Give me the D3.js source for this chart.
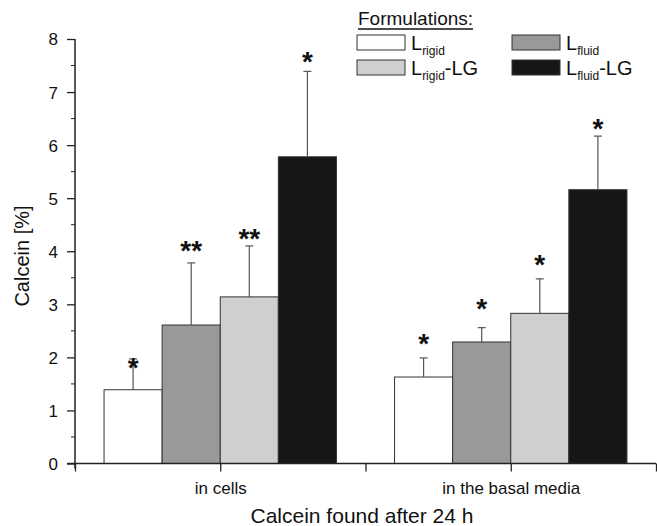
<!DOCTYPE html>
<html>
<head>
<meta charset="utf-8">
<script src="https://cdn.jsdelivr.net/npm/d3@7"></script>
<style>
  body { margin: 0; background: #fff; }
  text { font-family: Arial, "Liberation Sans", sans-serif; fill: #111; }
</style>
</head>
<body>
<div id="chart"></div>
<script>
var groups = ['in cells', 'in the basal media']
var formulations = ['Lrigid', 'Lfluid', 'Lrigid-LG', 'Lfluid-LG']
var colors = ['#ffffff', '#999999', '#cfcfcf', '#161616']

// mean values per group, in formulation order
var cellsMean = [1.39, 2.61, 3.14, 5.78]
var basalMean = [1.63, 2.29, 2.83, 5.16]
// top of the error bar
var cellsErr = [1.97, 3.78, 4.10, 7.39]
var basalErr = [1.99, 2.56, 3.48, 6.17]
// significance marks and where they sit
var cellsStars = ['*', '**', '**', '*']
var basalStars = ['*', '*', '*', '*']
var cellsStarY = [1.93, 4.14, 4.37, 7.69]
var basalStarY = [2.39, 3.05, 3.88, 6.43]

var yTicks = [0, 1, 2, 3, 4, 5, 6, 7, 8]
var yMinor = [0.5, 1.5, 2.5, 3.5, 4.5, 5.5, 6.5, 7.5]
var xTicks = [0, 1, 2, 3, 4]

var data = []
groups.forEach(function(g, gi){
  var m = gi == 0 ? cellsMean : basalMean
  var e = gi == 0 ? cellsErr : basalErr
  var s = gi == 0 ? cellsStars : basalStars
  var sy = gi == 0 ? cellsStarY : basalStarY
  formulations.forEach(function(f, i){
    data.push({group: gi, idx: i, value: m[i], err: e[i], star: s[i], starY: sy[i]})
  })
})

var W = 657, H = 526
var svg = d3.select('#chart').append('svg').attr('width', W).attr('height', H)

var x = d3.scaleLinear().domain([0, 4]).range([75, 656])
var y = d3.scaleLinear().domain([0, 8]).range([463.5, 39])
var barW = 0.4
var groupPos = [1, 3]

function barX(d){ return groupPos[d.group] - 2 * barW + d.idx * barW }

// bars
svg.selectAll('rect.bar').data(data).enter().append('rect')
  .attr('class', 'bar')
  .attr('x', function(d){ return x(barX(d)) })
  .attr('width', function(d){ return x(barX(d) + barW) - x(barX(d)) })
  .attr('y', function(d){ return y(d.value) })
  .attr('height', function(d){ return y(0) - y(d.value) })
  .attr('fill', function(d){ return colors[d.idx] })
  .attr('stroke', '#333')
  .attr('stroke-width', 1)

// error bars
var eb = svg.selectAll('g.err').data(data).enter().append('g').attr('class', 'err')
eb.append('line')
  .attr('x1', function(d){ return x(barX(d) + barW / 2) })
  .attr('x2', function(d){ return x(barX(d) + barW / 2) })
  .attr('y1', function(d){ return y(d.value) })
  .attr('y2', function(d){ return y(d.err) })
  .attr('stroke', '#555').attr('stroke-width', 1.2)
eb.append('line')
  .attr('x1', function(d){ return x(barX(d) + barW / 2) - 4 })
  .attr('x2', function(d){ return x(barX(d) + barW / 2) + 4 })
  .attr('y1', function(d){ return y(d.err) })
  .attr('y2', function(d){ return y(d.err) })
  .attr('stroke', '#555').attr('stroke-width', 1.2)

// stars
svg.selectAll('text.star').data(data).enter().append('text')
  .attr('class', 'star')
  .attr('x', function(d){ return x(barX(d) + barW / 2) })
  .attr('y', function(d){ return y(d.starY) + 16 })
  .attr('text-anchor', 'middle')
  .style('font-size', '28px').style('font-weight', 'bold')
  .text(function(d){ return d.star })

// y axis
var yAxis = d3.axisLeft(y).tickValues(yTicks).tickSize(8).tickPadding(9).tickFormat(d3.format('d'))
var gy = svg.append('g').attr('transform', 'translate(' + x(0) + ',0)').call(yAxis)
gy.selectAll('.tick text').style('font-size', '17px').attr('dy', '0.35em')
gy.append('g').selectAll('line').data(yMinor).enter().append('line')
  .attr('x1', -4).attr('x2', 0)
  .attr('y1', function(d){ return y(d) }).attr('y2', function(d){ return y(d) })
  .attr('stroke', '#222')

// x axis
var xAxis = d3.axisBottom(x).tickValues(xTicks).tickSize(8).tickPadding(10.5)
  .tickFormat(function(d){ return d == 1 ? groups[0] : d == 3 ? groups[1] : '' })
var gx = svg.append('g').attr('transform', 'translate(0,' + y(0) + ')').call(xAxis)
gx.selectAll('.tick text').style('font-size', '17px')

svg.selectAll('.domain').attr('stroke', '#222').attr('stroke-width', 1.5)
svg.selectAll('.tick line').attr('stroke', '#222').attr('stroke-width', 1.3)
gy.select('.domain').attr('d', 'M0,' + (y(0) + 5) + 'V' + y(8))
gx.select('.domain').attr('d', 'M' + (x(0) - 8) + ',0H' + x(4))

// axis titles
svg.append('text')
  .attr('transform', 'translate(29,' + 256 + ') rotate(-90)')
  .attr('text-anchor', 'middle')
  .style('font-size', '20px')
  .text('Calcein [%]')
svg.append('text')
  .attr('x', 362).attr('y', 523)
  .attr('text-anchor', 'middle')
  .style('font-size', '21px')
  .text('Calcein found after 24 h')

// legend
var lg = svg.append('g')
lg.append('text').attr('x', 358).attr('y', 25).style('font-size', '19px').text('Formulations:')
lg.append('line').attr('x1', 358).attr('x2', 473).attr('y1', 29).attr('y2', 29)
  .attr('stroke', '#111').attr('stroke-width', 1.3)

var legendItems = formulations.map(function(f, i){
  return {i: i, sub: f.indexOf('rigid') >= 0 ? 'rigid' : 'fluid', suffix: f.indexOf('-LG') >= 0 ? '-LG' : ''}
})
var li = lg.selectAll('g.item').data(legendItems).enter().append('g')
  .attr('transform', function(d){
    var col = d.i % 2, row = Math.floor(d.i / 2)
    return 'translate(' + (357 + col * 155) + ',' + (35 + row * 25) + ')'
  })
li.append('rect').attr('width', 48).attr('height', 15)
  .attr('fill', function(d){ return colors[d.i] })
  .attr('stroke', '#333').attr('stroke-width', 1)
var lt = li.append('text').attr('x', 54).attr('y', 15).style('font-size', '20px')
lt.append('tspan').text('L')
lt.append('tspan').attr('dy', 5).style('font-size', '12px').text(function(d){ return d.sub })
lt.append('tspan').attr('dy', -5).text(function(d){ return d.suffix })
</script>
</body>
</html>
